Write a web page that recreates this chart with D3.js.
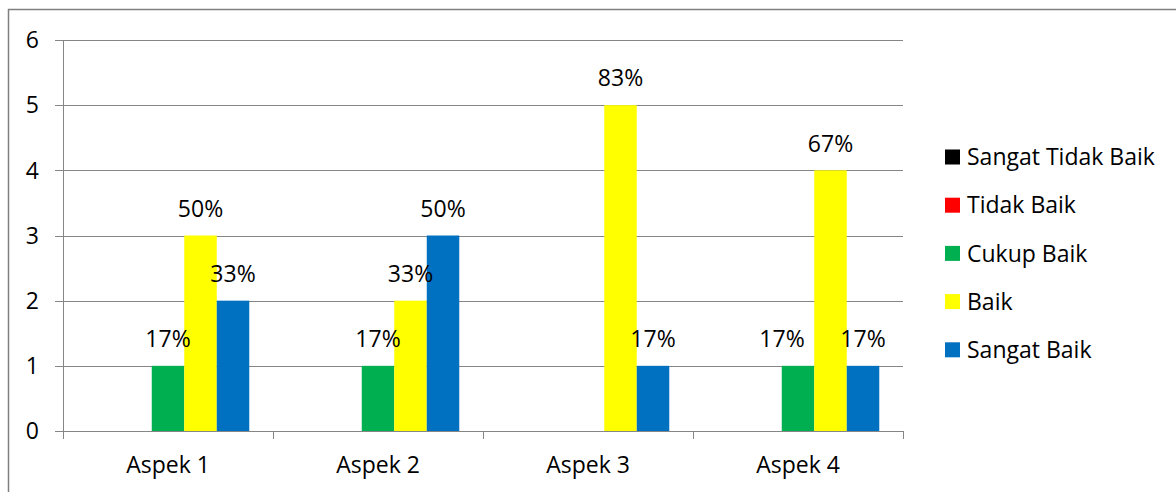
<!DOCTYPE html>
<html>
<head>
<meta charset="utf-8">
<script src="https://cdn.jsdelivr.net/npm/d3@7"></script>
<style>
  html, body { margin: 0; padding: 0; background: #fff; }
  svg { display: block; font-family: "Open Sans", "Noto Sans", sans-serif; }
</style>
</head>
<body>
<svg id="chart" width="1176" height="492"></svg>
<script>
// ---- data ----
const categories = ["Aspek 1", "Aspek 2", "Aspek 3", "Aspek 4"];
const seriesNames = ["Sangat Tidak Baik", "Tidak Baik", "Cukup Baik", "Baik", "Sangat Baik"];
const sangatTidakBaik = [0, 0, 0, 0];
const tidakBaik = [0, 0, 0, 0];
const cukupBaik = [1, 1, 0, 1];
const baik = [3, 2, 5, 4];
const sangatBaik = [2, 3, 1, 1];
const respondents = 6;
const yTicks = [0, 1, 2, 3, 4, 5, 6];
const seriesColors = ["#000000", "#FF0000", "#00B050", "#FFFF00", "#0070C0"];

const seriesValues = [sangatTidakBaik, tidakBaik, cukupBaik, baik, sangatBaik];

// ---- layout ----
const svg = d3.select("#chart");
const plot = { left: 63, right: 903, top: 40, bottom: 431 };
const gridColor = "#868686";
const fontSize = 23;

// outer frame (top & left)
svg.append("line").attr("x1", 8).attr("x2", 1176).attr("y1", 9.5).attr("y2", 9.5)
  .attr("stroke", "#7f7f7f").attr("stroke-width", 1.5);
svg.append("line").attr("x1", 8.5).attr("x2", 8.5).attr("y1", 9).attr("y2", 492)
  .attr("stroke", "#7f7f7f").attr("stroke-width", 1.5);

const x0 = d3.scaleBand().domain(categories).range([plot.left, plot.right]).paddingInner(0).paddingOuter(0);
const x1 = d3.scaleBand().domain(seriesNames).range([0, x0.bandwidth()]).paddingInner(0).paddingOuter(0.73);
const y = d3.scaleLinear().domain([0, 6]).range([plot.bottom, plot.top]);

// gridlines
svg.append("g").selectAll("line").data(yTicks).join("line")
  .attr("x1", plot.left - 8).attr("x2", plot.right)
  .attr("y1", d => Math.round(y(d)) + 0.5).attr("y2", d => Math.round(y(d)) + 0.5)
  .attr("stroke", gridColor).attr("stroke-width", 1);

// y axis line
svg.append("line").attr("x1", plot.left + 0.5).attr("x2", plot.left + 0.5)
  .attr("y1", Math.round(y(6))).attr("y2", Math.round(y(0)) + 0.5)
  .attr("stroke", gridColor);

// y labels
svg.append("g").selectAll("text").data(yTicks).join("text")
  .attr("x", 39).attr("y", d => y(d)).attr("dy", "0.36em")
  .attr("text-anchor", "end").attr("font-size", fontSize).attr("fill", "#000")
  .text(d => d);

// category ticks
const boundaries = categories.map(c => x0(c)).concat([plot.right]);
svg.append("g").selectAll("line").data(boundaries).join("line")
  .attr("x1", d => Math.round(d) + 0.5).attr("x2", d => Math.round(d) + 0.5)
  .attr("y1", Math.round(y(0))).attr("y2", Math.round(y(0)) + 8)
  .attr("stroke", gridColor);

// category labels
svg.append("g").selectAll("text").data(categories).join("text")
  .attr("x", d => x0(d) + x0.bandwidth() / 2).attr("y", 465).attr("dy", "0.36em")
  .attr("text-anchor", "middle").attr("font-size", fontSize).attr("fill", "#000")
  .text(d => d);

// bars
const barData = [];
seriesNames.forEach((s, si) => {
  categories.forEach((c, ci) => {
    barData.push({ series: s, si, cat: c, ci, value: seriesValues[si][ci] });
  });
});

svg.append("g").selectAll("rect").data(barData.filter(d => d.value > 0)).join("rect")
  .attr("x", d => x0(d.cat) + x1(d.series))
  .attr("y", d => y(d.value))
  .attr("width", x1.bandwidth())
  .attr("height", d => y(0) - y(d.value))
  .attr("fill", d => seriesColors[d.si]);

// data labels (percentage of respondents)
const labelNudge = { "Cukup Baik|Aspek 4": -16 };
svg.append("g").selectAll("text").data(barData.filter(d => d.value > 0)).join("text")
  .attr("x", d => x0(d.cat) + x1(d.series) + x1.bandwidth() / 2 + (labelNudge[d.series + "|" + d.cat] || 0))
  .attr("y", d => y(d.value) - 27).attr("dy", "0.36em")
  .attr("text-anchor", "middle").attr("font-size", fontSize).attr("fill", "#000")
  .text(d => Math.round(d.value / respondents * 100) + "%");

// legend
const legend = svg.append("g").selectAll("g").data(seriesNames).join("g")
  .attr("transform", (d, i) => `translate(945, ${157 + i * 48.2})`);
legend.append("rect").attr("x", 0).attr("y", -7.5).attr("width", 15).attr("height", 15)
  .attr("fill", (d, i) => seriesColors[i]);
legend.append("text").attr("x", 22).attr("y", 0).attr("dy", "0.36em")
  .attr("font-size", fontSize).attr("fill", "#000").text(d => d);
</script>
</body>
</html>
